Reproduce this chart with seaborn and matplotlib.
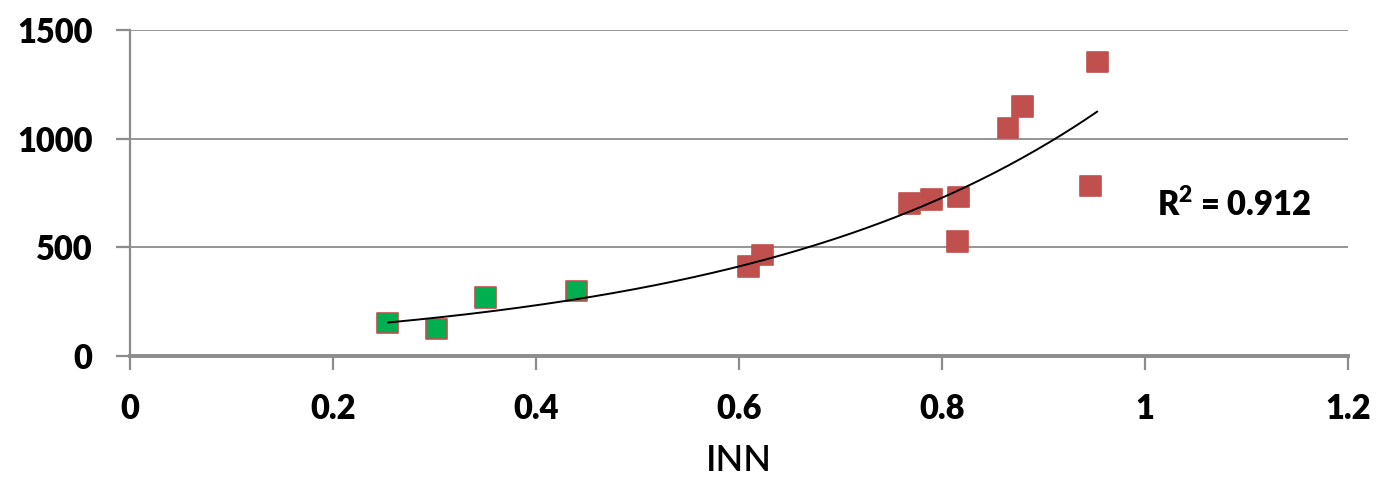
import numpy as np
import pandas as pd
import matplotlib
matplotlib.use("Agg")
import matplotlib.pyplot as plt
import seaborn as sns

# INN values and measured response, split into two groups
inn_low = [0.254, 0.302, 0.350, 0.440]
val_low = [152, 124, 271, 299]
inn_high = [0.609, 0.623, 0.768, 0.790, 0.816, 0.815, 0.865, 0.879, 0.946, 0.953]
val_high = [410, 465, 700, 722, 732, 525, 1049, 1150, 782, 1353]
groups = ["low", "high"]
group_colors = ["#00B050", "#C0504D"]
x_ticks = [0, 0.2, 0.4, 0.6, 0.8, 1, 1.2]
x_tick_labels = ["0", "0.2", "0.4", "0.6", "0.8", "1", "1.2"]
y_ticks = [0, 500, 1000, 1500]
r2_label = r"R$^{2}$ = 0.912"
x_label = "INN"

df = pd.DataFrame({
    "INN": inn_low + inn_high,
    "value": val_low + val_high,
    "group": [groups[0]] * len(inn_low) + [groups[1]] * len(inn_high),
})

sns.set_theme(style="white")
plt.rcParams["font.family"] = ["Lato", "DejaVu Sans"]
plt.rcParams["mathtext.fontset"] = "custom"
plt.rcParams["mathtext.rm"] = "Lato:heavy"
plt.rcParams["mathtext.it"] = "Lato:heavy"
plt.rcParams["mathtext.bf"] = "Lato:heavy"

fig = plt.figure(figsize=(13.82, 4.93), dpi=100)
ax = fig.add_axes([0.0941, 0.2779, 0.8813, 0.6612])

grid_color = "#8C8C8C"
ax.set_axisbelow(True)
ax.yaxis.grid(True, color=grid_color, linewidth=1.3)
ax.xaxis.grid(False)

sns.scatterplot(
    data=df, x="INN", y="value", hue="group",
    palette=dict(zip(groups, group_colors)),
    marker="s", s=225, edgecolor="#C0504D", linewidth=1.2,
    legend=False, ax=ax, zorder=3,
)

# exponential trendline fitted on log(value)
x_all = np.array(df["INN"])
y_all = np.array(df["value"], dtype=float)
b, ln_a = np.polyfit(x_all, np.log(y_all), 1)
xs = np.linspace(x_all.min(), x_all.max(), 200)
ax.plot(xs, np.exp(ln_a) * np.exp(b * xs), color="black", linewidth=1.4, zorder=4)

ax.text(1.012, 695, r2_label, fontsize=23.5, fontweight="heavy",
        ha="left", va="center", color="black")

ax.set_xlim(0, 1.2)
ax.set_ylim(0, 1500)
ax.set_xticks(x_ticks)
ax.set_xticklabels(x_tick_labels)
ax.set_yticks(y_ticks)
ax.set_ylabel("")
ax.set_xlabel(x_label, fontsize=26, fontweight="semibold", labelpad=13, color="black")

for side in ["top", "right"]:
    ax.spines[side].set_visible(False)
ax.spines["left"].set_color(grid_color)
ax.spines["left"].set_linewidth(1.6)
ax.spines["bottom"].set_color(grid_color)
ax.spines["bottom"].set_linewidth(2.8)

ax.tick_params(axis="both", which="major", direction="out", length=10,
               width=1.6, color=grid_color, pad=17, labelsize=23.5,
               labelcolor="black", bottom=True, left=True)
for lab in ax.get_xticklabels() + ax.get_yticklabels():
    lab.set_fontweight("heavy")

fig.savefig("out.png", dpi=100)
